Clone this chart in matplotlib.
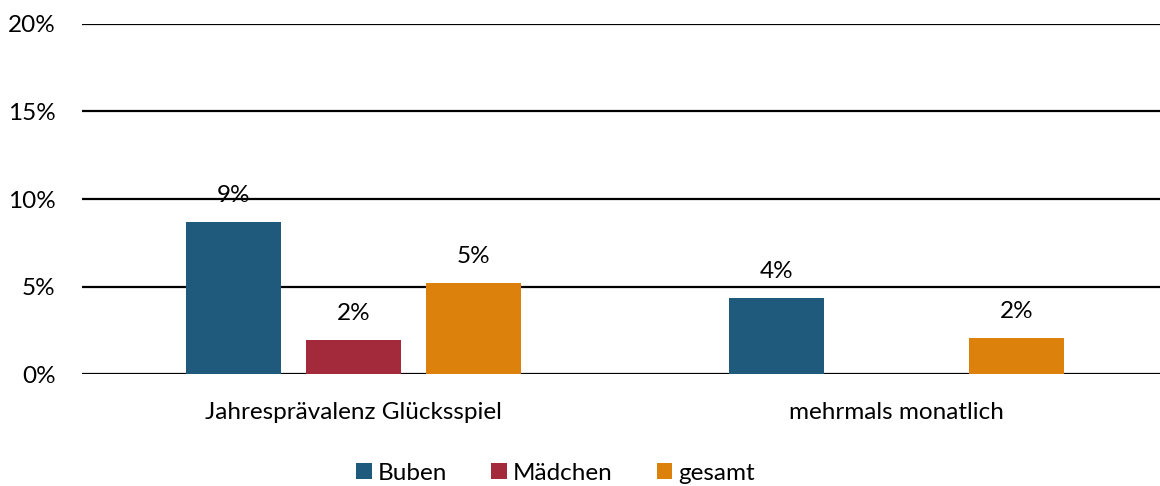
import matplotlib.pyplot as plt
import numpy as np
from matplotlib.patches import Patch

# Data
categories = ['Jahresprävalenz Glücksspiel', 'mehrmals monatlich']
series_names = ['Buben', 'Mädchen', 'gesamt']
buben = [8.7, 4.35]
maedchen = [1.96, np.nan]
gesamt = [5.2, 2.07]
value_labels = [['9%', '4%'], ['2%', ''], ['5%', '2%']]
y_ticks = [0, 5, 10, 15, 20]

colors = ['#1F5A7C', '#A22A3A', '#DC820C']

plt.rcParams['font.family'] = ['Lato', 'DejaVu Sans']
fs = 17.5

fig = plt.figure(figsize=(11.6, 4.86), dpi=100)
ax = fig.add_axes([82 / 1160, 1 - 374 / 486, 1 - 82 / 1160, 350 / 486])

x = np.arange(len(categories))
step = 120 / 543
width = 95 / 543
all_series = [buben, maedchen, gesamt]

for i, (vals, col) in enumerate(zip(all_series, colors)):
    pos = x + (i - 1) * step
    ax.bar(pos, vals, width=width, color=col, zorder=3)
    for p, v, lab in zip(pos, vals, value_labels[i]):
        if lab and not np.isnan(v):
            ax.annotate(lab, (p, v), xytext=(0, 19), textcoords='offset points',
                        ha='center', va='center', fontsize=fs, zorder=4)

ax.set_ylim(0, 20)
ax.set_xlim(-0.5, 1.5 - 8 / 543)
ax.set_yticks(y_ticks)
ax.set_yticklabels([f'{t}%' for t in y_ticks])
ax.set_xticks(x)
ax.set_xticklabels(categories)
ax.tick_params(axis='both', length=0, labelsize=fs)
ax.tick_params(axis='x', pad=20)
ax.tick_params(axis='y', pad=19)

ax.yaxis.grid(True, color='black', linewidth=1.6, zorder=1)
for s in ax.spines.values():
    s.set_visible(False)

handles = [Patch(facecolor=c, label=n) for c, n in zip(colors, series_names)]
fig.legend(handles=handles, loc='center', bbox_to_anchor=(0.479, 1 - 473 / 486),
           ncol=3, frameon=False, fontsize=fs, handlelength=0.65, handleheight=0.65,
           handletextpad=0.25, columnspacing=1.8)

fig.savefig('out.png', dpi=100)
